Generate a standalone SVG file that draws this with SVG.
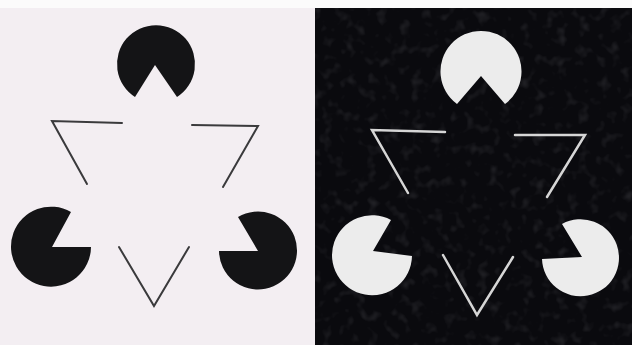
<svg xmlns="http://www.w3.org/2000/svg" width="632" height="345" viewBox="0 0 632 345">
  <style>
    .pac-dark { fill: #141416; }
    .pac-light { fill: #ececec; }
    .line-dark { fill: none; stroke: #3a3a3c; stroke-width: 2; stroke-linecap: round; stroke-linejoin: miter; }
    .line-light { fill: none; stroke: #d6d6d6; stroke-width: 2.5; stroke-linecap: round; stroke-linejoin: miter; }
  </style>
  <defs>
    <filter id="grain" x="0" y="0" width="100%" height="100%">
      <feTurbulence type="fractalNoise" baseFrequency="0.09" numOctaves="2" seed="3" result="n"/>
      <feColorMatrix in="n" type="matrix" values="0 0 0 0 0.6  0 0 0 0 0.6  0 0 0 0 0.65  0 0 0 -1.6 0.75"/>
      <feComposite in2="SourceGraphic" operator="in"/>
    </filter>
  </defs>

  <!-- page background -->
  <rect x="0" y="0" width="632" height="345" fill="#fbfbfb"/>

  <!-- left panel -->
  <g id="left-panel">
    <rect x="0" y="8" width="315" height="337" fill="#f3eef2"/>
    <g id="left-pac-top">
      <path class="pac-dark" d="M155,65 L177,97 A39,39 0 1 0 135,97 Z"/>
    </g>
    <g id="left-pac-left">
      <path class="pac-dark" d="M52,247 L91,247 A40,40 0 1 1 71,212 Z"/>
    </g>
    <g id="left-pac-right">
      <path class="pac-dark" d="M258,251 L219,251 A39,39 0 1 0 238,217 Z"/>
    </g>
    <g id="left-outline">
      <polyline class="line-dark" points="122,123 52,121 87,184"/>
      <polyline class="line-dark" points="192,125 258,126 223,187"/>
      <polyline class="line-dark" points="119,247 154,306 189,247"/>
    </g>
  </g>

  <!-- right panel -->
  <g id="right-panel">
    <rect x="315" y="8" width="317" height="337" fill="#0a0a0e"/>
    <rect x="315" y="8" width="317" height="337" fill="#0a0a0e" filter="url(#grain)" opacity="0.2"/>
    <g id="right-pac-top">
      <path class="pac-light" d="M481,76 L505,104 A40.5,40.5 0 1 0 457,104 Z"/>
    </g>
    <g id="right-pac-left">
      <path class="pac-light" d="M373,251 L412,256 A40,40 0 1 1 391,220 Z"/>
    </g>
    <g id="right-pac-right">
      <path class="pac-light" d="M582,257 L542,259 A38.5,38.5 0 1 0 562,224 Z"/>
    </g>
    <g id="right-outline">
      <polyline class="line-light" points="445,132 372,130 408,193"/>
      <polyline class="line-light" points="515,135 585,135 547,197"/>
      <polyline class="line-light" points="443,255 477,315 513,257"/>
    </g>
  </g>
</svg>
